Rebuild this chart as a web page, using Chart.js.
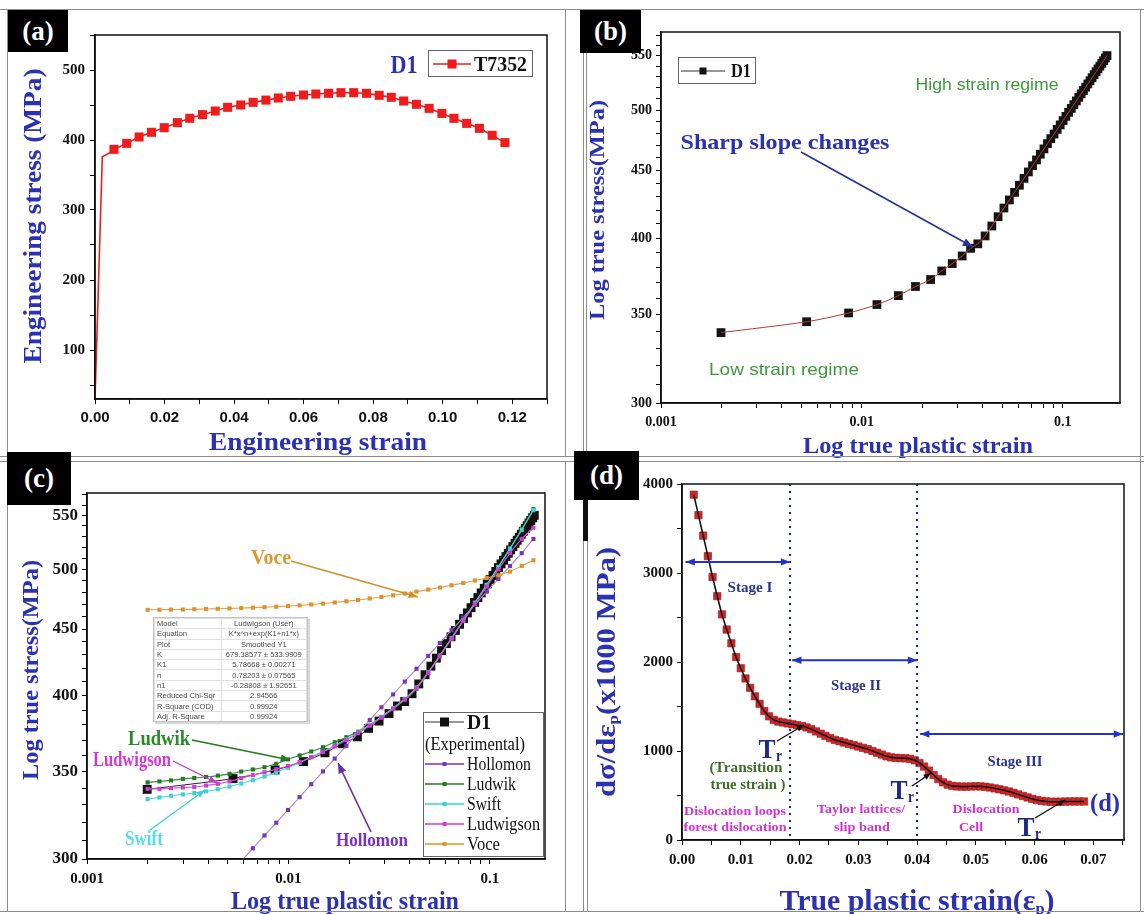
<!DOCTYPE html>
<html>
<head>
<meta charset="utf-8">
<script src="https://cdn.jsdelivr.net/npm/chart.js@4.4.1/dist/chart.umd.min.js"></script>
<style>
  body { margin: 0; background: #fff; width: 1144px; height: 914px; position: relative; overflow: hidden; }
  canvas { position: absolute; left: 0; top: 0; }
  .ln { position: absolute; background: #8c8c8c; }
  .tag { position: absolute; background: #000; color: #fff; font: bold 27px "Liberation Serif", serif;
         display: flex; align-items: center; justify-content: center; }
  #fit { position: absolute; left: 153px; top: 617px; width: 153px; height: 103px; overflow: hidden;
         background: #fff; border: 1px solid #c4c4c4; box-shadow: 2px 2px 1px #d8d8d8; }
  #fit table { border-collapse: collapse; width: 100%; font: 7.6px "Liberation Sans", sans-serif; color: #4a4a4a; }
  #fit td { border: 1px solid #e0e0e0; height: 9.3px; padding: 0 2px; line-height: 9px; white-space: nowrap; }
  #fit td + td { text-align: center; }
</style>
</head>
<body>
<canvas id="ca" width="1144" height="914"></canvas>
<canvas id="cb" width="1144" height="914"></canvas>
<canvas id="cc" width="1144" height="914"></canvas>
<canvas id="cd" width="1144" height="914"></canvas>

<!-- panel frames -->
<div class="ln" style="left:0;top:9px;width:1144px;height:1px"></div>
<div class="ln" style="left:7px;top:9px;width:1px;height:448px"></div>
<div class="ln" style="left:565px;top:9px;width:1px;height:448px"></div>
<div class="ln" style="left:583px;top:50px;width:1px;height:406px"></div>
<div class="ln" style="left:586px;top:50px;width:1px;height:406px"></div>
<div class="ln" style="left:0;top:456px;width:1144px;height:1px"></div>
<div class="ln" style="left:0;top:461px;width:1144px;height:1px"></div>
<div class="ln" style="left:7px;top:461px;width:1px;height:450px"></div>
<div class="ln" style="left:565px;top:461px;width:1px;height:450px"></div>
<div class="ln" style="left:583px;top:540px;width:1px;height:371px"></div>
<div class="ln" style="left:587px;top:540px;width:1px;height:371px"></div>
<div style="position:absolute;left:583px;top:455px;width:5px;height:86px;background:#111"></div>
<div class="ln" style="left:0;top:911px;width:1144px;height:1px"></div>
<div class="ln" style="left:1140px;top:9px;width:1px;height:902px"></div>

<div class="tag" style="left:8px;top:10px;width:60px;height:42px">(a)</div>
<div class="tag" style="left:580px;top:10px;width:61px;height:43px">(b)</div>
<div class="tag" style="left:7px;top:452px;width:64px;height:53px">(c)</div>
<div class="tag" style="left:574px;top:451px;width:65px;height:49px">(d)</div>

<div id="fit"><table>
  <tr><td>Model</td><td>Ludwigson (User)</td></tr>
  <tr><td>Equation</td><td>K*x^n+exp(K1+n1*x)</td></tr>
  <tr><td>Plot</td><td>Smoothed Y1</td></tr>
  <tr><td>K</td><td>679.38577 ± 533.9909</td></tr>
  <tr><td>K1</td><td>5.78668 ± 0.00271</td></tr>
  <tr><td>n</td><td>0.78203 ± 0.07565</td></tr>
  <tr><td>n1</td><td>-0.28808 ± 1.92651</td></tr>
  <tr><td>Reduced Chi-Sqr</td><td>2.94566</td></tr>
  <tr><td>R-Square (COD)</td><td>0.99924</td></tr>
  <tr><td>Adj. R-Square</td><td>0.99924</td></tr>
</table></div>

<script>
// ---------- (a) engineering stress-strain ----------
const aElasticStrain = [0, 0.0021, 0.0040];
const aElasticStress = [30, 376, 381];
const aStrain = [0.00545, 0.00912, 0.01268, 0.01624, 0.01991, 0.02369, 0.02725, 0.03092, 0.03458, 0.03815,
  0.04192, 0.04548, 0.04915, 0.05271, 0.05628, 0.05995, 0.06351, 0.06718, 0.07074, 0.07441,
  0.07808, 0.08174, 0.0852, 0.08877, 0.09243, 0.0961, 0.09977, 0.10323, 0.10689, 0.11056, 0.11423, 0.1179];
const aStress = [386.7, 395.2, 404.3, 411.0, 417.6, 424.8, 431.0, 436.2, 441.4, 446.7,
  450.0, 453.8, 457.0, 460.0, 462.4, 464.3, 465.7, 466.7, 467.6, 467.6,
  466.7, 463.8, 461.0, 455.7, 451.0, 445.2, 438.0, 431.0, 423.8, 416.7, 406.7, 396.2];
const aXTicks = [0, 0.01, 0.02, 0.03, 0.04, 0.05, 0.06, 0.07, 0.08, 0.09, 0.10, 0.11, 0.12, 0.13];
const aXLabels = ['0.00', '0.02', '0.04', '0.06', '0.08', '0.10', '0.12'];
const aYTicks = [50, 100, 150, 200, 250, 300, 350, 400, 450, 500, 550];
const aYLabels = ['100', '200', '300', '400', '500'];

// ---------- (b) / (c) log true stress vs log true plastic strain, D1 ----------
const d1Strain = [0.00199, 0.00531, 0.00859, 0.01189, 0.0152, 0.0185, 0.0220, 0.0250, 0.0282, 0.0316,
  0.0348, 0.0378, 0.0411, 0.0444, 0.0477, 0.0510, 0.0543, 0.0576, 0.0609, 0.0642,
  0.0675, 0.0708, 0.0741, 0.0774, 0.0807, 0.0840, 0.0873, 0.0906, 0.0939, 0.0972,
  0.1005, 0.1038, 0.1071, 0.1104, 0.1137, 0.1170, 0.1203, 0.1236, 0.1269, 0.1302,
  0.1335, 0.1368, 0.1401, 0.1434, 0.1467, 0.1500, 0.1533, 0.1566, 0.1599, 0.1632, 0.1663];
const d1Stress = [339.2, 345.7, 351.0, 356.2, 361.8, 367.6, 372.1, 377.7, 382.6, 387.7,
  392.9, 396.0, 401.5, 408.5, 415.2, 421.5, 427.5, 433.2, 438.6, 443.9,
  448.9, 453.8, 458.4, 463.0, 467.3, 471.6, 475.7, 479.6, 483.5, 487.3,
  491.0, 494.6, 498.1, 501.5, 504.8, 508.1, 511.3, 514.4, 517.4, 520.4,
  523.4, 526.3, 529.1, 531.9, 534.6, 537.3, 539.9, 542.5, 545.0, 547.6, 549.9];
const bcXTicks = [0.001, 0.002, 0.003, 0.004, 0.005, 0.006, 0.007, 0.008, 0.009,
  0.01, 0.02, 0.03, 0.04, 0.05, 0.06, 0.07, 0.08, 0.09, 0.1];
const bcXLabels = ['0.001', '0.01', '0.1'];
const bcYTicks = [300, 310, 320, 330, 340, 350, 360, 370, 380, 390, 400, 410, 420, 430, 440,
  450, 460, 470, 480, 490, 500, 510, 520, 530, 540, 550, 560, 570];
const bcYLabels = ['300', '350', '400', '450', '500', '550'];

// model fits in (c), on a common strain grid
const fitStrain = [0.00200, 0.00229, 0.00261, 0.00299, 0.00341, 0.00390, 0.00446, 0.00510, 0.00583, 0.00666,
  0.00761, 0.00870, 0.00995, 0.01137, 0.01299, 0.01485, 0.01698, 0.01940, 0.02218, 0.02535,
  0.02897, 0.03311, 0.03785, 0.04326, 0.04945, 0.05652, 0.06460, 0.07384, 0.08440, 0.09647,
  0.1103, 0.1260, 0.1441, 0.1647];
const hollomon = [null, null, null, null, null, null, null, null, 298.8, 305.7,
  312.7, 319.8, 327.1, 334.6, 342.3, 350.1, 358.1, 366.3, 374.7, 383.3,
  392.0, 401.0, 410.2, 419.6, 429.2, 439.0, 449.1, 459.3, 469.9, 480.6,
  491.6, 502.9, 514.4, 527.5];
const ludwik = [343.4, 344.0, 344.6, 345.5, 346.1, 346.7, 347.5, 348.6, 350.0, 351.3,
  352.7, 354.8, 357.6, 360.1, 362.6, 365.4, 368.6, 371.9, 375.5, 380.0,
  385.0, 391.0, 397.0, 405.0, 416.5, 429.0, 442.5, 456.5, 471.0, 486.5,
  502.5, 519.0, 537.0, 556.0];
const swift = [333.4, 334.4, 335.4, 336.2, 337.0, 338.0, 339.3, 340.9, 342.7, 344.7,
  347.0, 349.5, 352.3, 355.5, 359.0, 362.6, 366.5, 370.5, 375.0, 380.0,
  385.5, 391.5, 398.0, 406.0, 417.0, 429.5, 443.0, 457.0, 471.5, 486.5,
  502.0, 518.5, 536.0, 555.0];
const ludwigson = [339.5, 339.5, 339.9, 340.3, 340.6, 341.5, 342.5, 344.0, 346.0, 347.8,
  349.6, 351.5, 353.5, 356.0, 359.0, 362.3, 366.0, 370.0, 374.5, 379.5,
  385.0, 391.0, 397.5, 405.5, 416.5, 429.0, 442.5, 456.5, 470.5, 485.0,
  500.0, 514.5, 527.5, 538.0];
const voce = [465.5, 465.6, 465.7, 465.8, 466.0, 466.2, 466.4, 466.7, 467.0, 467.3,
  467.7, 468.1, 468.6, 469.2, 469.9, 470.7, 471.6, 472.6, 473.7, 474.9,
  476.2, 477.6, 479.1, 480.7, 482.4, 484.2, 486.1, 488.1, 490.2, 492.4,
  494.7, 498.0, 503.0, 508.0];

// ---------- (d) work hardening rate ----------
const dStrain = [0.0020, 0.0028, 0.0036, 0.0044, 0.0052, 0.0060, 0.0068, 0.0076, 0.0084, 0.0092,
  0.0100, 0.0108, 0.0116, 0.0124, 0.0132, 0.0140, 0.0148, 0.0156, 0.0164, 0.0172,
  0.0180, 0.0188, 0.0196, 0.0204, 0.0212, 0.0220, 0.0228, 0.0236, 0.0244, 0.0252,
  0.0260, 0.0268, 0.0276, 0.0284, 0.0292, 0.0300, 0.0308, 0.0316, 0.0324, 0.0332,
  0.0340, 0.0348, 0.0356, 0.0364, 0.0372, 0.0380, 0.0388, 0.0396, 0.0404, 0.0412,
  0.0420, 0.0428, 0.0436, 0.0444, 0.0452, 0.0460, 0.0468, 0.0476, 0.0484, 0.0492,
  0.0500, 0.0508, 0.0516, 0.0524, 0.0532, 0.0540, 0.0548, 0.0556, 0.0564, 0.0572,
  0.0580, 0.0588, 0.0596, 0.0604, 0.0612, 0.0620, 0.0628, 0.0636, 0.0644, 0.0652,
  0.0660, 0.0668, 0.0676, 0.0684];
const dRate = [3880, 3650, 3420, 3190, 2955, 2740, 2535, 2365, 2210, 2055,
  1930, 1815, 1710, 1615, 1530, 1450, 1390, 1350, 1330, 1320,
  1310, 1300, 1290, 1280, 1265, 1245, 1220, 1195, 1170, 1145,
  1125, 1110, 1095, 1080, 1065, 1050, 1035, 1020, 1000, 980,
  960, 940, 928, 922, 920, 918, 912, 895, 865, 825,
  780, 730, 685, 648, 622, 608, 602, 600, 600, 602,
  603, 602, 598, 590, 580, 570, 558, 545, 530, 512,
  495, 478, 462, 450, 440, 433, 430, 430, 430, 432,
  433, 433, 433, 433];
const dXTicks = [0, 0.005, 0.01, 0.015, 0.02, 0.025, 0.03, 0.035, 0.04, 0.045, 0.05, 0.055, 0.06, 0.065, 0.07, 0.075];
const dXLabels = ['0.00', '0.01', '0.02', '0.03', '0.04', '0.05', '0.06', '0.07'];
const dYTicks = [0, 500, 1000, 1500, 2000, 2500, 3000, 3500, 4000];
const dYLabels = ['0', '1000', '2000', '3000', '4000'];
const stageBounds = [0.0184, 0.0400];

// ---------- helpers ----------
const BLUE = '#2b31b0';
const SERIF = '"Liberation Serif", serif';
const SANS = '"Liberation Sans", sans-serif';
Chart.defaults.font.family = SERIF;
Chart.defaults.color = '#111';

const pts = (xs, ys) => xs.map((x, i) => ({ x: x, y: ys[i] }));

function text(ctx, parts, x, y, size, width, color, opt) {
  opt = opt || {};
  const fam = opt.family || SERIF;
  const wt = opt.weight || 'bold';
  ctx.save();
  ctx.translate(x, y);
  if (opt.rot) ctx.rotate(opt.rot);
  ctx.fillStyle = color;
  ctx.textBaseline = 'alphabetic';
  let total = 0;
  const fonts = parts.map(p => wt + ' ' + (p.sub ? size * 0.55 : size) + 'px ' + fam);
  const ws = parts.map((p, i) => { ctx.font = fonts[i]; return ctx.measureText(p.t).width; });
  ws.forEach(w => total += w);
  if (width) ctx.scale(width / total, 1);
  let cx = opt.left ? 0 : -total / 2;
  parts.forEach((p, i) => {
    ctx.font = fonts[i];
    ctx.fillText(p.t, cx, size * 0.34 + (p.sub ? size * 0.12 : 0));
    cx += ws[i];
  });
  ctx.restore();
}

function head(ctx, x1, y1, x2, y2, s) {
  const a = Math.atan2(y2 - y1, x2 - x1);
  ctx.beginPath();
  ctx.moveTo(x2, y2);
  ctx.lineTo(x2 - s * Math.cos(a - 0.38), y2 - s * Math.sin(a - 0.38));
  ctx.lineTo(x2 - s * Math.cos(a + 0.38), y2 - s * Math.sin(a + 0.38));
  ctx.closePath();
  ctx.fill();
}

function arrow(ctx, x1, y1, x2, y2, color, lw, s, both) {
  ctx.save();
  ctx.strokeStyle = color; ctx.fillStyle = color; ctx.lineWidth = lw;
  ctx.beginPath(); ctx.moveTo(x1, y1); ctx.lineTo(x2, y2); ctx.stroke();
  head(ctx, x1, y1, x2, y2, s);
  if (both) head(ctx, x2, y2, x1, y1, s);
  ctx.restore();
}

function legendLine(ctx, x1, x2, y, color, lw, mk, mkColor) {
  ctx.save();
  ctx.strokeStyle = color; ctx.lineWidth = lw;
  ctx.beginPath(); ctx.moveTo(x1, y); ctx.lineTo(x2, y); ctx.stroke();
  ctx.fillStyle = mkColor || color;
  const m = (x1 + x2) / 2;
  ctx.fillRect(m - mk / 2, y - mk / 2, mk, mk);
  ctx.restore();
}

function axis(type, pos, min, max, ticks, labels, font, pad) {
  return {
    type: type, position: pos, min: min, max: max,
    afterFit: s => { if (pos === 'left') s.width = 60; else s.height = 40; },
    afterBuildTicks: s => { s.ticks = ticks.map(v => ({ value: v })); },
    grid: { drawOnChartArea: false, drawTicks: true, tickLength: 5, color: '#000', lineWidth: 1 },
    border: { display: true, color: '#000', width: 1.5 },
    ticks: {
      autoSkip: false, maxRotation: 0, minRotation: 0, padding: pad, color: '#111', font: font,
      callback: v => {
        const l = labels.find(s => Math.abs(parseFloat(s) - v) <= 1e-6 * Math.abs(v) + 1e-12);
        return l === undefined ? '' : l;
      }
    }
  };
}

function makeChart(id, area, xAxis, yAxis, datasets, draw) {
  return new Chart(document.getElementById(id), {
    type: 'line',
    data: { datasets: datasets },
    options: {
      responsive: false, animation: false, devicePixelRatio: 1,
      layout: { padding: { left: area.l - 60, top: area.t, right: 1144 - area.r, bottom: 914 - area.b - 40 } },
      plugins: { legend: { display: false }, tooltip: { enabled: false } },
      scales: { x: xAxis, y: yAxis }
    },
    plugins: [{
      id: 'deco',
      afterDatasetsDraw: ch => {
        const ctx = ch.ctx, a = ch.chartArea;
        ctx.save();
        ctx.strokeStyle = '#111'; ctx.lineWidth = 1.5;
        ctx.strokeRect(a.left, a.top, a.right - a.left, a.bottom - a.top);
        ctx.restore();
        draw(ch, ctx);
      }
    }]
  });
}

const serifB = s => ({ family: SERIF, weight: 'bold', size: s });
const sansB = s => ({ family: SANS, weight: 'bold', size: s });

// ---------- panel (a) ----------
makeChart('ca', { l: 95, r: 547, t: 35, b: 399 },
  axis('linear', 'bottom', 0, 0.13, aXTicks, aXLabels, sansB(15), 5),
  axis('linear', 'left', 30, 550, aYTicks, aYLabels, serifB(15), 5),
  [{
    data: pts(aElasticStrain.concat(aStrain), aElasticStress.concat(aStress)),
    borderColor: '#e3221f', borderWidth: 1.6, tension: 0,
    pointStyle: 'rect', pointBackgroundColor: '#ee1c1c', pointBorderWidth: 0,
    pointRadius: aElasticStrain.map(() => 0).concat(aStrain.map(() => 6.4))
  }],
  (ch, ctx) => {
    text(ctx, [{ t: 'Engineering stress (MPa)' }], 32, 216, 25, 295, BLUE, { rot: -Math.PI / 2 });
    text(ctx, [{ t: 'Engineering strain' }], 318, 441, 26, 218, BLUE);
    text(ctx, [{ t: 'D1' }], 404, 64, 25, 27, BLUE);
    ctx.save(); ctx.strokeStyle = '#666'; ctx.lineWidth = 1; ctx.strokeRect(428.5, 50.5, 104, 26); ctx.restore();
    legendLine(ctx, 433, 471, 64, '#e3221f', 1.3, 9, '#ee1c1c');
    text(ctx, [{ t: 'T7352' }], 474, 64, 20, 53, '#111', { left: true });
  });

// ---------- panel (b) ----------
makeChart('cb', { l: 661, r: 1120, t: 32, b: 403 },
  axis('logarithmic', 'bottom', 0.001, 0.193, bcXTicks, bcXLabels, serifB(14), 6),
  axis('logarithmic', 'left', 300, 573, bcYTicks, bcYLabels, serifB(14), 4),
  [{
    data: pts(d1Strain, d1Stress), order: 0,
    borderColor: '#b03a3a', borderWidth: 1, tension: 0.3, pointRadius: 0
  }, {
    data: pts(d1Strain, d1Stress), order: 1, showLine: false,
    pointStyle: 'rect', pointRadius: 6.2, pointBackgroundColor: '#141414', pointBorderWidth: 0
  }],
  (ch, ctx) => {
    text(ctx, [{ t: 'Log true stress(MPa)' }], 597, 210, 22, 220, BLUE, { rot: -Math.PI / 2 });
    text(ctx, [{ t: 'Log true plastic strain' }], 918, 445, 24, 230, BLUE);
    text(ctx, [{ t: 'Sharp slope changes' }], 785, 142, 22, 209, BLUE);
    arrow(ctx, 801, 152, 973, 247, '#26329a', 1.6, 11);
    text(ctx, [{ t: 'High strain regime' }], 987, 84, 17, 143, '#3f9a3f', { family: SANS, weight: 'normal' });
    text(ctx, [{ t: 'Low strain regime' }], 784, 369, 17, 150, '#3f9a3f', { family: SANS, weight: 'normal' });
    ctx.save(); ctx.strokeStyle = '#666'; ctx.lineWidth = 1; ctx.strokeRect(678.5, 57.5, 77, 26); ctx.restore();
    legendLine(ctx, 681, 725, 71, '#333', 1, 7, '#111');
    text(ctx, [{ t: 'D1' }], 731, 71, 19, 20, '#111', { left: true });
  });

// ---------- panel (c) ----------
const models = [
  { name: 'Hollomon', vals: hollomon, mk: '#7434bb', line: '#b48ab8' },
  { name: 'Ludwik', vals: ludwik, mk: '#1f7d1f', line: '#3a8a3a' },
  { name: 'Swift', vals: swift, mk: '#38d4d4', line: '#52d8d8' },
  { name: 'Ludwigson', vals: ludwigson, mk: '#d238d2', line: '#d65ad6' },
  { name: 'Voce', vals: voce, mk: '#e0922a', line: '#e4a050' }
];
makeChart('cc', { l: 87, r: 545, t: 493, b: 859 },
  axis('logarithmic', 'bottom', 0.001, 0.188, bcXTicks, bcXLabels, serifB(15), 6),
  axis('logarithmic', 'left', 300, 572, bcYTicks, bcYLabels, serifB(17), 4),
  [{
    data: pts(d1Strain, d1Stress), order: 9,
    borderColor: '#222', borderWidth: 1, tension: 0.3,
    pointStyle: 'rect', pointRadius: 6.3, pointBackgroundColor: '#111', pointBorderWidth: 0
  }].concat(models.map((m, i) => ({
    data: pts(fitStrain, m.vals), order: 5 - i,
    borderColor: m.line, borderWidth: 1.1, tension: 0.2,
    pointStyle: 'rect', pointRadius: 2.9, pointBackgroundColor: m.mk, pointBorderWidth: 0
  }))),
  (ch, ctx) => {
    text(ctx, [{ t: 'Log true stress(MPa)' }], 30, 670, 24, 220, BLUE, { rot: -Math.PI / 2 });
    text(ctx, [{ t: 'Log true plastic strain' }], 345, 900, 26, 228, BLUE);
    text(ctx, [{ t: 'Voce' }], 271, 557, 22, 40, '#e0962e');
    arrow(ctx, 291, 561, 418, 597, '#d0902a', 1.4, 10);
    text(ctx, [{ t: 'Ludwik' }], 159, 738, 22, 62, '#2a8a2a');
    arrow(ctx, 192, 740, 290, 760, '#217a21', 1.4, 10);
    text(ctx, [{ t: 'Ludwigson' }], 132, 759, 20, 78, '#d838d8');
    arrow(ctx, 173, 761, 217, 783, '#c838c8', 1.3, 9);
    text(ctx, [{ t: 'Swift' }], 144, 838, 20, 38, '#56dcee');
    arrow(ctx, 150, 830, 205, 790, '#3ccfd8', 1.3, 9);
    text(ctx, [{ t: 'Hollomon' }], 372, 840, 19, 72, '#7a30c0');
    arrow(ctx, 371, 832, 338, 763, '#6a2aa8', 1.6, 11);
    // legend
    ctx.save(); ctx.fillStyle = '#fff'; ctx.fillRect(423, 712, 120, 144);
    ctx.strokeStyle = '#666'; ctx.lineWidth = 1; ctx.strokeRect(423.5, 712.5, 120, 144); ctx.restore();
    legendLine(ctx, 425, 464, 722, '#333', 1.2, 9, '#111');
    text(ctx, [{ t: 'D1' }], 467, 722, 20, 24, '#111', { left: true });
    text(ctx, [{ t: '(Experimental)' }], 425, 744, 19, 100, '#111', { left: true, weight: 'normal' });
    models.forEach((m, i) => {
      const y = 764 + i * 20;
      legendLine(ctx, 425, 464, y, m.mk, 1.6, 4, m.mk);
      text(ctx, [{ t: m.name }], 467, y, 19, [64, 49, 34, 73, 33][i], '#111', { left: true, weight: 'normal' });
    });
  });

// ---------- panel (d) ----------
makeChart('cd', { l: 682, r: 1124, t: 484, b: 840 },
  axis('linear', 'bottom', 0, 0.0752, dXTicks, dXLabels, serifB(15), 6),
  axis('linear', 'left', 0, 4000, dYTicks, dYLabels, serifB(15), 4),
  [{
    data: pts(dStrain, dRate), order: 0,
    borderColor: '#111', borderWidth: 1.6, tension: 0.35, pointRadius: 0
  }, {
    data: pts(dStrain, dRate), order: 1, showLine: false,
    pointStyle: 'rect', pointRadius: 5.2, pointBackgroundColor: '#d0282a',
    pointBorderColor: '#9a1a1a', pointBorderWidth: 0.6
  }],
  (ch, ctx) => {
    const xs = ch.scales.x, ys = ch.scales.y, a = ch.chartArea;
    // stage boundaries
    ctx.save();
    ctx.strokeStyle = '#1c2a80'; ctx.lineWidth = 2; ctx.setLineDash([2, 5]);
    stageBounds.forEach(v => {
      const x = Math.round(xs.getPixelForValue(v));
      ctx.beginPath(); ctx.moveTo(x, a.top); ctx.lineTo(x, a.bottom); ctx.stroke();
    });
    ctx.restore();
    const x0 = xs.getPixelForValue(0.0006), x1 = xs.getPixelForValue(stageBounds[0]);
    const x2 = xs.getPixelForValue(stageBounds[1]);
    arrow(ctx, x0, ys.getPixelForValue(3125), x1, ys.getPixelForValue(3125), '#2233cc', 2, 10, true);
    arrow(ctx, x1 + 2, ys.getPixelForValue(2020), x2, ys.getPixelForValue(2020), '#2233cc', 2, 10, true);
    arrow(ctx, x2 + 3, ys.getPixelForValue(1190), a.right - 1, ys.getPixelForValue(1190), '#2233cc', 2, 10, true);
    const SB = '#2c3592';
    text(ctx, [{ t: 'Stage I' }], 750, 587, 15, 45, SB);
    text(ctx, [{ t: 'Stage II' }], 856, 685, 15, 50, SB);
    text(ctx, [{ t: 'Stage III' }], 1015, 761, 15, 55, SB);
    // transition markers
    const TR = '#1d2a8c';
    const tr = (x, y) => {
      text(ctx, [{ t: 'T' }], x, y, 28, 17, TR);
      text(ctx, [{ t: 'r' }], x + 12, y + 8, 16, 6, TR);
    };
    tr(767, 748); tr(899, 789); tr(1026, 826);
    arrow(ctx, 777, 741, 804, 725, '#111', 1.4, 8);
    arrow(ctx, 912, 786, 931, 773, '#111', 1.4, 8);
    arrow(ctx, 1035, 818, 1065, 800, '#111', 1.4, 8);
    text(ctx, [{ t: '(Transition' }], 746, 767, 15, 73, '#3f6e28');
    text(ctx, [{ t: 'true strain )' }], 748, 784, 15, 75, '#3f6e28');
    const MG = '#d232d2';
    text(ctx, [{ t: 'Dislocation loops' }], 735, 811, 13, 102, MG);
    text(ctx, [{ t: 'forest dislocation' }], 735, 827, 13, 103, MG);
    text(ctx, [{ t: 'Taylor lattices/' }], 861, 809, 13, 88, MG);
    text(ctx, [{ t: 'slip band' }], 862, 827, 13, 56, MG);
    text(ctx, [{ t: 'Dislocation' }], 986, 809, 13, 67, MG);
    text(ctx, [{ t: 'Cell' }], 971, 827, 13, 24, MG);
    text(ctx, [{ t: '(d)' }], 1105, 802, 26, 30, BLUE);
    // axis titles
    text(ctx, [{ t: 'dσ/dε' }, { t: 'p', sub: true }, { t: '(x1000 MPa)' }], 605, 672, 28, 250, BLUE, { rot: -Math.PI / 2 });
    text(ctx, [{ t: 'True plastic strain(ε' }, { t: 'p', sub: true }, { t: ')' }], 917, 900, 30, 275, BLUE);
  });
</script>
</body>
</html>
